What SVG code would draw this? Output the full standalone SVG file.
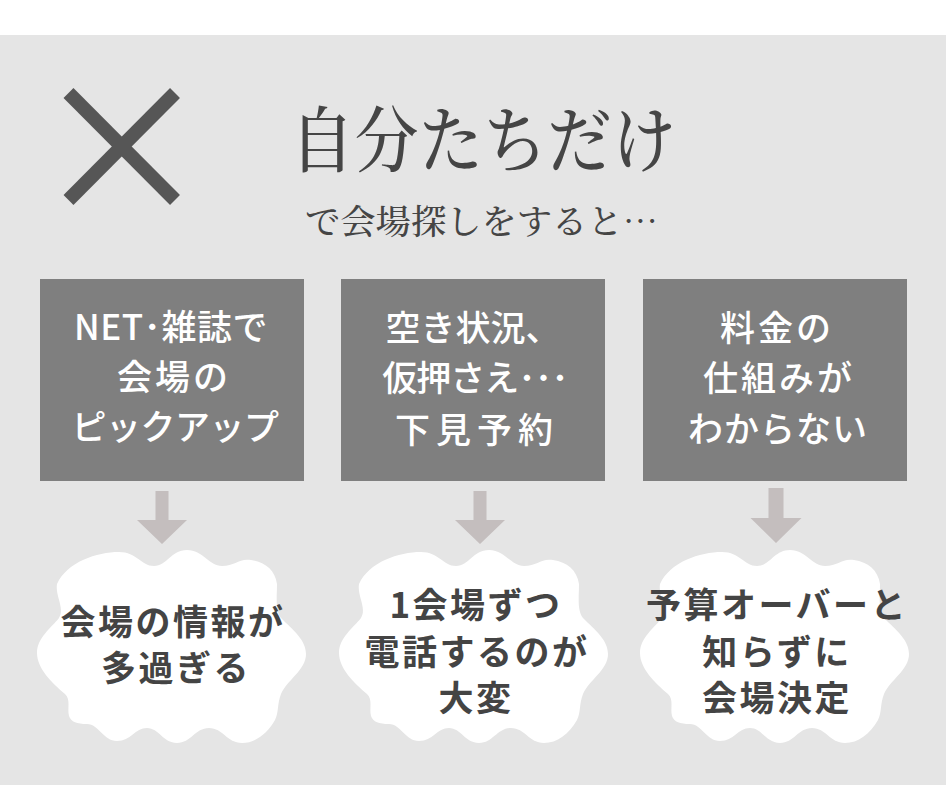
<svg xmlns="http://www.w3.org/2000/svg" xmlns:xlink="http://www.w3.org/1999/xlink" width="946" height="788" viewBox="0 0 946 788">
<style>
.bg{fill:#e5e5e5}
.box{fill:#7f7f7f}
.cloud{fill:#ffffff}
.arrow{fill:#c4bebe}
.boxtxt{font-family:"Noto Sans CJK JP","Noto Sans",sans-serif;font-size:35px;font-weight:500;fill:#ffffff;text-anchor:middle}
.cloudtxt{font-family:"Noto Sans CJK JP","Noto Sans",sans-serif;font-size:35px;font-weight:bold;fill:#444444;text-anchor:middle;letter-spacing:2.5px}
.title{font-family:"Noto Serif CJK JP","Noto Sans CJK JP",serif;fill:#454545}
</style>
<defs>
<path id="cloudShape" d="M20,36 C30,14 60,4 82,4 C100,4 104,18 117,18 C130,18 134,2 150,2 C166,2 172,18 185,18 C198,18 202,10 214,12 C228,14 238,22 240,36 C240,50 238,62 244,70 C256,82 269,92 269,106 C269,122 250,132 244,146 C240,156 242,164 238,172 C230,186 218,195 205,195 C190,195 186,180 172,180 C158,180 154,195 140,195 C126,195 122,180 110,180 C98,180 94,193 80,193 C66,193 62,176 50,176 C40,176 34,174 32,168 C30,160 34,152 28,146 C14,134 0,120 0,105 C0,90 14,80 22,70 C28,60 18,48 20,36 Z"/>
</defs>
<rect x="0" y="0" width="946" height="788" fill="#ffffff"/>
<rect class="bg" x="0" y="35" width="946" height="750"/>
<g id="header">
<g id="xmark" stroke="#565656" stroke-width="14" stroke-linecap="butt">
<line x1="68.5" y1="93" x2="175" y2="200"/>
<line x1="175" y1="93" x2="68.5" y2="200"/>
</g>
<text class="title" x="290" y="166" font-size="72" font-weight="500" textLength="386" lengthAdjust="spacingAndGlyphs">自分たちだけ</text>
<text class="title" x="305" y="234" font-size="34" font-weight="500" textLength="353" lengthAdjust="spacingAndGlyphs">で会場探しをすると…</text>
</g>
<g id="box1">
<rect class="box" x="40" y="279" width="264" height="202"/>
<text class="boxtxt" x="171" y="340" letter-spacing="0.5">NET･雑誌で</text>
<text class="boxtxt" x="174" y="390" letter-spacing="3">会場の</text>
<text class="boxtxt" x="175" y="440" letter-spacing="-0.5">ピックアップ</text>
</g>
<g id="box2">
<rect class="box" x="341" y="279" width="264" height="202"/>
<text class="boxtxt" x="473" y="341" letter-spacing="0">空き状況、</text>
<text class="boxtxt" x="475" y="391" letter-spacing="-1">仮押さえ･･･</text>
<text class="boxtxt" x="477" y="443" letter-spacing="6">下見予約</text>
</g>
<g id="box3">
<rect class="box" x="643" y="279" width="264" height="202"/>
<text class="boxtxt" x="777" y="341" letter-spacing="3">料金の</text>
<text class="boxtxt" x="779" y="391" letter-spacing="3">仕組みが</text>
<text class="boxtxt" x="778" y="442" letter-spacing="1">わからない</text>
</g>
<g id="connectors">
<polygon class="arrow" points="155.5,491 168.5,491 168.5,520 187,520 162,544 137,520 155.5,520"/>
<polygon class="arrow" points="473.5,491 486.5,491 486.5,520 505,520 480,544 455,520 473.5,520"/>
<polygon class="arrow" points="768.5,488 783.5,488 783.5,518 801.5,518 776,543 750.5,518 768.5,518"/>
</g>
<g id="cloud1">
<use xlink:href="#cloudShape" class="cloud" x="37" y="548"/>
<text class="cloudtxt" x="173" y="635">会場の情報が</text>
<text class="cloudtxt" x="176" y="681">多過ぎる</text>
</g>
<g id="cloud2">
<use xlink:href="#cloudShape" class="cloud" x="339" y="548"/>
<text class="cloudtxt" x="476" y="618">1会場ずつ</text>
<text class="cloudtxt" x="477" y="665">電話するのが</text>
<text class="cloudtxt" x="476" y="711">大変</text>
</g>
<g id="cloud3">
<use xlink:href="#cloudShape" class="cloud" x="640" y="548"/>
<text class="cloudtxt" x="777" y="618">予算オーバーと</text>
<text class="cloudtxt" x="777" y="665">知らずに</text>
<text class="cloudtxt" x="777" y="711">会場決定</text>
</g>
</svg>
